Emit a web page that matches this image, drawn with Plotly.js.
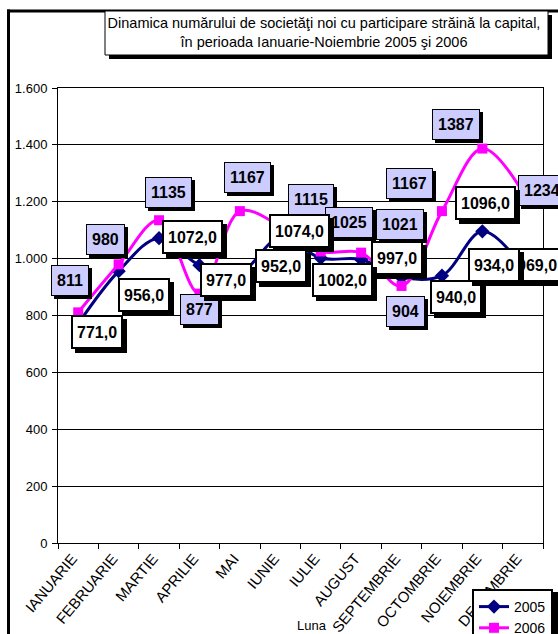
<!DOCTYPE html>
<html><head><meta charset="utf-8">
<script src="https://cdn.plot.ly/plotly-3.0.1.min.js"></script>
<style>html,body{margin:0;padding:0;background:#fff;overflow:hidden;} #chart{width:558px;height:634px;}</style>
</head><body><div id="chart"></div>
<script>
// ---- data ----
const months = ['IANUARIE','FEBRUARIE','MARTIE','APRILIE','MAI','IUNIE','IULIE','AUGUST','SEPTEMBRIE','OCTOMBRIE','NOIEMBRIE','DECEMBRIE'];
const values2005 = [771, 956, 1072, 977, 952, 1074, 1002, 997, 934, 940, 1096, 969];
const values2006 = [811, 980, 1135, 877, 1167, 1115, 1025, 1021, 904, 1167, 1387, 1234];
const yTickVals = [0, 200, 400, 600, 800, 1000, 1200, 1400, 1600];
const yTickText = ['0', '200', '400', '600', '800', '1.000', '1.200', '1.400', '1.600'];
const seriesNames = ['2005', '2006'];
const titleLines = ['Dinamica numărului de societăţi noi cu participare străină la capital,', 'în perioada Ianuarie-Noiembrie 2005 şi 2006'];
const xTitle = 'Luna';

// ---- layout helpers ----
const FONT = 'Liberation Sans, Arial, sans-serif';
const W = 558, H = 634, M = {l: 58, r: 15, t: 88, b: 91, autoexpand: false};
const PW = W - M.l - M.r, PH = H - M.t - M.b;
const px = x => (x - M.l) / PW;
const py = y => (H - M.b - y) / PH;

// label offsets in pixels (dx right, dy down) from each point
const off2005 = [[19,8],[25,24],[33,-1],[27,15],[41,-6],[19,-7],[22,22],[36,-1],[92,-12],[14,21],[3,-28],[14,-2]];
const off2006 = [[-8,-32],[-13,-25],[9,-28],[0,16],[8,-34],[31,-26],[28,-29],[39,-28],[4,26],[-32,-28],[-26,-24],[19,-2]];

const st2005 = {bg: '#FFFFFF', bw: 2, pad: 4, h: 22, sh: 4};
const st2006 = {bg: '#CCCCFF', bw: 1, pad: 5, h: 19, sh: 3};

const annotations = [];
function addLabel(xcat, yval, text, off, st) {
  const base = {x: xcat, y: yval, xref: 'x', yref: 'y', text: text, showarrow: false,
    xanchor: 'center', yanchor: 'middle',
    font: {family: FONT, size: 16, weight: 'bold', color: '#000'},
    bordercolor: '#000', borderwidth: st.bw, borderpad: st.pad, height: st.h};
  annotations.push(Object.assign({}, base, {bgcolor: '#000', xshift: off[0] + st.sh, yshift: -(off[1] + st.sh)}));
  annotations.push(Object.assign({}, base, {bgcolor: st.bg, xshift: off[0], yshift: -off[1]}));
}
values2006.forEach((v, i) => addLabel(months[i], v, String(v), off2006[i], st2006));
for (let i = values2005.length - 1; i >= 0; i--) {
  addLabel(months[i], values2005[i], values2005[i].toFixed(1).replace('.', ','), off2005[i], st2005);
}
annotations.push({xref: 'paper', yref: 'paper', x: px(312), y: py(625), text: xTitle, showarrow: false,
  xanchor: 'center', yanchor: 'middle', font: {family: FONT, size: 13, color: '#000'}});

const shapes = [
  // chart outer frame (left + top)
  {type: 'line', xref: 'paper', yref: 'paper', x0: px(8.5), x1: px(8.5), y0: py(9.5), y1: py(640), line: {color: '#000', width: 3}, layer: 'above'},
  {type: 'line', xref: 'paper', yref: 'paper', x0: px(7), x1: px(560), y0: py(11), y1: py(11), line: {color: '#000', width: 3}, layer: 'above'},
  // title box shadow + box
  {type: 'rect', xref: 'paper', yref: 'paper', x0: px(109), x1: px(552), y0: py(15), y1: py(59), fillcolor: '#000', line: {width: 0}, layer: 'above'},
  {type: 'rect', xref: 'paper', yref: 'paper', x0: px(105), x1: px(548), y0: py(11), y1: py(55), fillcolor: '#fff', line: {color: '#000', width: 1}, layer: 'above'},
  // legend shadow
  {type: 'rect', xref: 'paper', yref: 'paper', x0: px(477), x1: px(562), y0: py(592), y1: py(660), fillcolor: '#000', line: {width: 0}, layer: 'above'}
];

const traces = [
  {type: 'scatter', mode: 'lines+markers', name: seriesNames[0], x: months, y: values2005,
   line: {color: '#000080', width: 3, shape: 'spline', smoothing: 1},
   marker: {symbol: 'diamond', size: 11, color: '#000080'}, cliponaxis: false},
  {type: 'scatter', mode: 'lines+markers', name: seriesNames[1], x: months, y: values2006,
   line: {color: '#FF00FF', width: 3, shape: 'spline', smoothing: 1},
   marker: {symbol: 'square', size: 10, color: '#FF00FF'}, cliponaxis: false}
];

const layout = {
  width: W, height: H, margin: M,
  paper_bgcolor: '#fff', plot_bgcolor: '#fff',
  font: {family: FONT, size: 12, color: '#000'},
  title: {text: titleLines.join('<br>'), font: {family: FONT, size: 14.5, color: '#000'},
    xref: 'container', x: 324 / W, xanchor: 'center', yref: 'container', y: 1 - 28 / H, yanchor: 'top'},
  xaxis: {type: 'category', range: [-0.5, months.length - 0.5], autorange: false,
    tickson: 'boundaries', ticks: 'outside', ticklen: 5, tickcolor: '#000',
    tickangle: -50, ticklabelshift: -6, showgrid: false, showline: true, mirror: true, linecolor: '#000', linewidth: 1,
    tickfont: {family: FONT, size: 15, color: '#000'}, automargin: false},
  yaxis: {range: [0, 1600], autorange: false, tickvals: yTickVals, ticktext: yTickText, ticks: 'outside', ticklen: 5,
    tickcolor: '#000', showgrid: true, gridcolor: '#000', gridwidth: 1, zeroline: false,
    showline: true, mirror: true, linecolor: '#000', linewidth: 1, ticklabelstandoff: 2,
    tickfont: {family: FONT, size: 13, color: '#000'}, automargin: false},
  legend: {x: px(472), y: py(589), xanchor: 'left', yanchor: 'top', bgcolor: '#fff',
    bordercolor: '#000', borderwidth: 2, font: {family: FONT, size: 14, color: '#000'}},
  showlegend: true,
  annotations: annotations,
  shapes: shapes
};

Plotly.newPlot('chart', traces, layout, {displayModeBar: false, staticPlot: true});
</script>
</body></html>
